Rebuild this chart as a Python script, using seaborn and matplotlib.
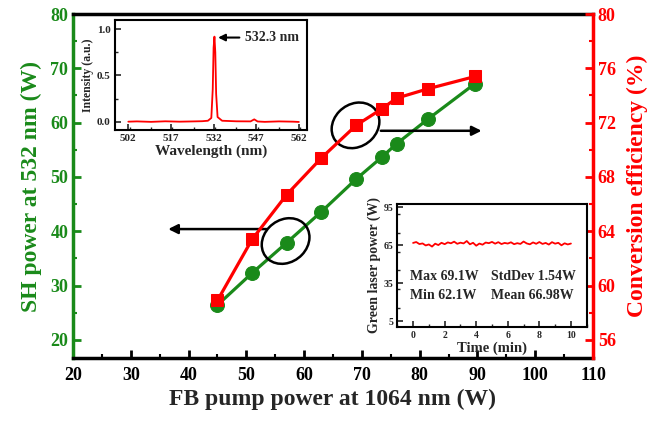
import numpy as np
import pandas as pd
import seaborn as sns
import matplotlib.pyplot as plt
from matplotlib.patches import Ellipse
from matplotlib.ticker import MultipleLocator

# ---------------- data ----------------
pump = [45, 51, 57, 63, 69, 73.4, 76, 81.5, 89.6]
sh_power = [26.4, 32.3, 37.9, 43.6, 49.6, 53.6, 56.1, 60.7, 67.2]
efficiency = [58.9, 63.4, 66.7, 69.4, 71.8, 73.0, 73.8, 74.5, 75.4]

wavelength = [502, 505, 510, 515, 520, 525, 528, 530, 531.2, 531.7, 532.0, 532.3,
              532.6, 532.9, 533.4, 535, 540, 545, 546.3, 547.5, 550, 555, 560, 562]
intensity = [0.0, 0.003, -0.002, 0.004, 0.0, 0.003, 0.005, 0.01, 0.04, 0.35, 0.8, 0.92,
             0.75, 0.3, 0.05, 0.01, 0.004, 0.003, 0.025, 0.002, -0.002, 0.003, 0.0, -0.003]
wl_ticks = [502, 517, 532, 547, 562]

time_min = [0.0, 0.2, 0.4, 0.6, 0.8, 1.0, 1.2, 1.4, 1.6, 1.8,
            2.0, 2.2, 2.4, 2.6, 2.8, 3.0, 3.2, 3.4, 3.6, 3.8,
            4.0, 4.2, 4.4, 4.6, 4.8, 5.0, 5.2, 5.4, 5.6, 5.8,
            6.0, 6.2, 6.4, 6.6, 6.8, 7.0, 7.2, 7.4, 7.6, 7.8,
            8.0, 8.2, 8.4, 8.6, 8.8, 9.0, 9.2, 9.4, 9.6, 9.8, 10.0]
green_power = [66.8, 67.5, 65.9, 66.4, 64.8, 65.6, 63.9, 66.2, 65.1, 66.9,
               65.8, 67.2, 66.5, 67.8, 66.1, 67.0, 66.4, 68.3, 65.7, 66.9,
               64.6, 66.3, 65.4, 67.1, 66.6, 67.6, 66.2, 67.4, 65.9, 66.8,
               66.3, 67.3, 65.8, 66.6, 66.0, 67.9, 66.4, 65.7, 67.2, 66.1,
               67.5, 66.0, 66.8, 65.5, 67.4, 66.2, 66.9, 64.9, 66.5, 65.6, 66.3]
stats_text = ["Max 69.1W", "StdDev 1.54W", "Min 62.1W", "Mean 66.98W"]

GREEN = '#1a8a1a'
RED = '#ff0000'

sns.set_style('ticks')
plt.rcParams.update({
    'font.family': ['Liberation Serif', 'DejaVu Serif'],
    'font.weight': 'bold',
    'axes.labelweight': 'bold',
    'xtick.direction': 'in',
    'ytick.direction': 'in',
})

fig = plt.figure(figsize=(6.54, 4.30), dpi=100)
ax = fig.add_axes([0.1116, 0.1667, 0.7951, 0.8007])

df = pd.DataFrame({'pump': pump, 'sh': sh_power, 'eff': efficiency})
sns.lineplot(data=df, x='pump', y='sh', ax=ax, color=GREEN, marker='o',
             markersize=10, lw=2.3, markeredgecolor=GREEN)
ax.set_xlim(20, 110)
ax.set_ylim(16.6, 80)

ax2 = ax.twinx()
sns.lineplot(data=df, x='pump', y='eff', ax=ax2, color=RED, marker='s',
             markersize=9, lw=2.3, markeredgecolor=RED)
ax2.set_ylim(54.64, 80)

# spines
for s in ['top', 'bottom']:
    ax.spines[s].set_color('black')
    ax.spines[s].set_linewidth(2.5)
    ax2.spines[s].set_visible(False)
ax.spines['left'].set_color(GREEN)
ax.spines['left'].set_linewidth(2.5)
ax.spines['right'].set_visible(False)
ax2.spines['left'].set_visible(False)
ax2.spines['right'].set_color(RED)
ax2.spines['right'].set_linewidth(2.5)

ax.set_xticks(range(20, 111, 10))
ax.xaxis.set_minor_locator(MultipleLocator(5))
ax.yaxis.set_minor_locator(MultipleLocator(5))
ax.set_yticks(range(20, 81, 10))
ax2.set_yticks(range(56, 81, 4))
ax2.yaxis.set_minor_locator(MultipleLocator(2))

ax.tick_params(axis='x', which='major', labelsize=13, width=2, length=6, colors='black', pad=6)
ax.tick_params(axis='x', which='minor', width=1.5, length=3, colors='black')
ax.tick_params(axis='y', which='major', labelsize=13, width=2, length=6, colors=GREEN)
ax.tick_params(axis='y', which='minor', width=1.5, length=3, colors=GREEN)
ax2.tick_params(axis='y', which='major', labelsize=13, width=2, length=6, colors=RED)
ax2.tick_params(axis='y', which='minor', width=1.5, length=3, colors=RED)
for lab in ax.get_xticklabels() + ax.get_yticklabels() + ax2.get_yticklabels():
    lab.set_fontweight('bold')

ax.set_xlabel('FB pump power at 1064 nm (W)', fontsize=17, fontweight='bold', labelpad=4)
ax.set_ylabel('SH power at 532 nm (W)', fontsize=17, fontweight='bold', color=GREEN, labelpad=6)
ax2.set_ylabel('Conversion efficiency (%)', fontsize=17, fontweight='bold', color=RED, labelpad=8)

# ellipses and arrows
ax.add_patch(Ellipse((68.9, 59.5), 9.0, 7.6, angle=48, fill=False, ec='black', lw=1.8, zorder=10))
ax.add_patch(Ellipse((56.8, 38.2), 9.0, 7.6, angle=48, fill=False, ec='black', lw=1.8, zorder=10))
arrow = dict(arrowstyle='-|>', color='black', lw=1.8, mutation_scale=14)
ax.annotate('', xy=(91.2, 58.5), xytext=(72.8, 58.5), arrowprops=arrow, zorder=10)
ax.annotate('', xy=(36.0, 40.4), xytext=(54.0, 40.4), arrowprops=arrow, zorder=10)

# inset 1: spectrum
ins1 = fig.add_axes([0.1758, 0.6977, 0.2942, 0.2558])
ins1.set_zorder(5)
ins1.set_facecolor('white')
sns.lineplot(x=wavelength, y=intensity, ax=ins1, color=RED, lw=1.3)
ins1.set_xlim(497.3, 565)
ins1.set_ylim(-0.09, 1.1)
ins1.set_xticks(wl_ticks)
ins1.set_yticks([0.0, 0.5, 1.0])
ins1.xaxis.set_minor_locator(MultipleLocator(7.5))
ins1.yaxis.set_minor_locator(MultipleLocator(0.25))
ins1.tick_params(which='major', labelsize=8, width=1.2, length=4, pad=3)
ins1.tick_params(which='minor', width=1, length=2)
for s in ins1.spines.values():
    s.set_linewidth(1.5)
    s.set_color('black')
for lab in ins1.get_xticklabels() + ins1.get_yticklabels():
    lab.set_fontweight('bold')
ins1.set_xlabel('Wavelength (nm)', fontsize=11, fontweight='bold', labelpad=1)
ins1.set_ylabel('Intensity (a.u.)', fontsize=8.5, fontweight='bold', labelpad=2)
ins1.annotate('532.3 nm', xy=(532.6, 0.91), xytext=(543.2, 0.91), fontsize=10,
              fontweight='bold', va='center', ha='left',
              arrowprops=dict(arrowstyle='-|>', color='black', lw=1.5, mutation_scale=10))

# inset 2: stability
ins2 = fig.add_axes([0.6075, 0.2402, 0.2896, 0.2854])
ins2.set_zorder(5)
ins2.set_facecolor('white')
sns.lineplot(x=time_min, y=green_power, ax=ins2, color=RED, lw=1.3)
ins2.set_xlim(-1, 11)
ins2.set_ylim(0.5, 97.6)
ins2.set_xticks(range(0, 11, 2))
ins2.set_yticks([5, 35, 65, 95])
ins2.xaxis.set_minor_locator(MultipleLocator(1))
ins2.yaxis.set_minor_locator(MultipleLocator(15))
ins2.tick_params(which='major', labelsize=7, width=1.2, length=4, pad=3)
ins2.tick_params(which='minor', width=1, length=2)
for s in ins2.spines.values():
    s.set_linewidth(1.5)
    s.set_color('black')
for lab in ins2.get_xticklabels() + ins2.get_yticklabels():
    lab.set_fontweight('bold')
ins2.set_xlabel('Time (min)', fontsize=10.5, fontweight='bold', labelpad=1)
ins2.set_ylabel('Green laser power (W)', fontsize=10, fontweight='bold', labelpad=2)
ins2.text(-0.2, 40, stats_text[0], fontsize=10, fontweight='bold', va='center')
ins2.text(4.95, 40, stats_text[1], fontsize=10, fontweight='bold', va='center')
ins2.text(-0.2, 25, stats_text[2], fontsize=10, fontweight='bold', va='center')
ins2.text(4.95, 25, stats_text[3], fontsize=10, fontweight='bold', va='center')

fig.savefig('out.png', dpi=100)
